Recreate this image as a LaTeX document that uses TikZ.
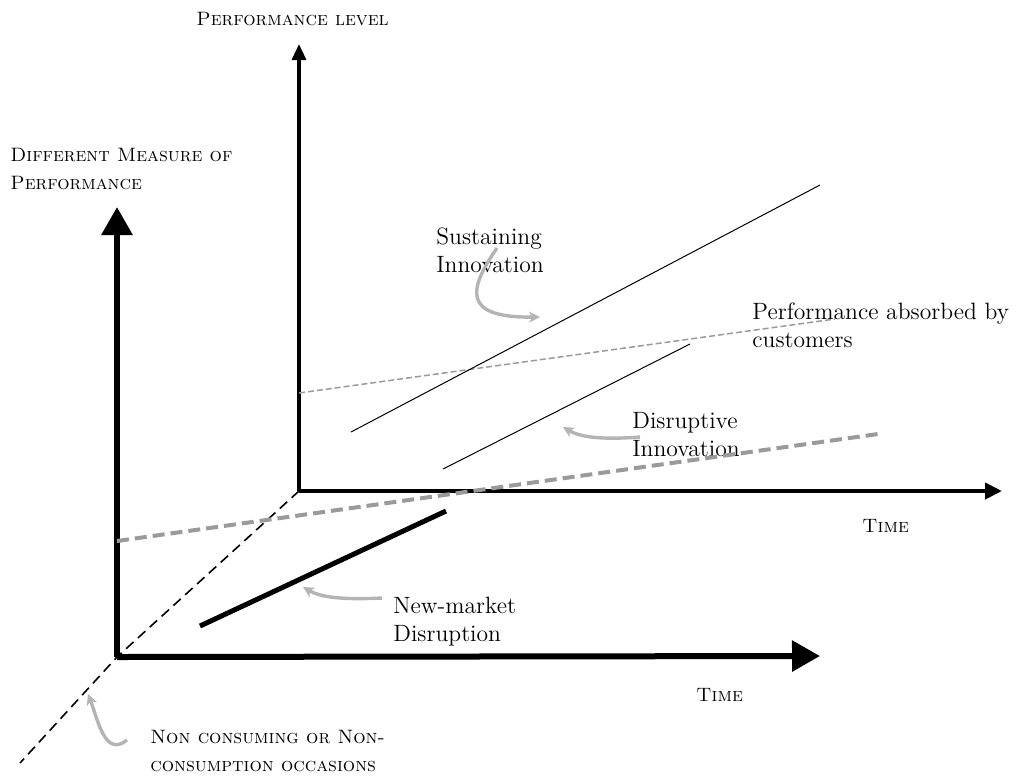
\documentclass[tikz,border=0pt]{standalone}
\usepackage{xcolor}
\usepackage{tikz}
\usetikzlibrary{arrows.meta}

\definecolor{absorbgray}{HTML}{9A9A9A}
\definecolor{pointgray}{HTML}{B4B4B4}

\begin{document}
\begin{tikzpicture}[
  x=0.5pt, y=-0.5pt,
  lbl/.style={anchor=north west, inner sep=0pt, align=left, font=\fontsize{11.8}{14}\selectfont},
  caplbl/.style={lbl, font=\fontsize{9.7}{14}\selectfont\scshape},
  mainaxis/.style={line width=3pt, -{Triangle[length=14pt, width=15pt]}},
  backaxis/.style={line width=1.6pt, -{Triangle[length=8pt, width=7pt]}},
  trend/.style={line width=0.5pt},
  absorb/.style={absorbgray, line width=0.75pt, dash pattern=on 3pt off 1.5pt},
  pointer/.style={pointgray, line width=1.7pt, -{Stealth[length=5.5pt, width=5.5pt]}}
]
\useasboundingbox (0,0) rectangle (1022,778);

% origins and axis ends
\coordinate (front) at (117,657);
\coordinate (back) at (299,491);
\coordinate (fronty) at (117,207);
\coordinate (frontx) at (820,656);
\coordinate (backy) at (299,44);
\coordinate (backx) at (1002,491);
\coordinate (depth) at (20,763);

% labels
\node[caplbl] (perf) at (196,12) {Performance level};
\node[caplbl] (measure) at (10,148) {Different Measure of\\Performance};
\node[lbl] (sust) at (436,227) {Sustaining\\Innovation};
\node[lbl] (absorbed) at (752,302) {Performance absorbed by\\customers};
\node[lbl] (disr) at (632,412) {Disruptive\\Innovation};
\node[caplbl] (timeback) at (862,519) {Time};
\node[lbl] (newmkt) at (393,597) {New-market\\Disruption};
\node[caplbl] (timefront) at (696,688) {Time};
\node[caplbl] (noncons) at (150,730) {Non consuming or Non-\\consumption occasions};

% third axis, dashed
\draw[line width=0.8pt, dash pattern=on 5pt off 3pt] (back) -- (front) -- (depth);

% axes
\draw[backaxis] (back) -- (backy);
\draw[backaxis, line width=2pt, -{Triangle[length=8.5pt, width=8pt]}] (back) -- (backx);
\draw[mainaxis] (front) -- (fronty);
\draw[mainaxis] (front) -- (frontx);

% performance absorbed by customers
\coordinate (abs1) at (299,393);
\coordinate (abs2) at (835,319);
\draw[absorb] (abs1) -- (abs2);
\coordinate (abs3) at (117,541);
\coordinate (abs4) at (878,434);
\draw[absorbgray, line width=2pt, dash pattern=on 6pt off 3pt] (abs3) -- (abs4);

% trajectories
\coordinate (s1) at (351,432);
\coordinate (s2) at (820,185);
\draw[trend] (s1) -- (s2);
\coordinate (d1) at (443,469);
\coordinate (d2) at (690,344);
\draw[trend] (d1) -- (d2);
\coordinate (n1) at (200,626);
\coordinate (n2) at (446,511);
\draw[line width=2.5pt] (n1) -- (n2);

% grey pointers
\coordinate (ps) at (497,248);
\coordinate (pt) at (540,317);
\draw[pointer] (ps) .. controls (468,290) and (462,318) .. (pt);
\coordinate (pd) at (640,437);
\coordinate (pdt) at (563,427);
\draw[pointer] (pd) .. controls (600,440) and (580,437) .. (pdt);
\coordinate (pn) at (382,598);
\coordinate (pnt) at (303,587);
\draw[pointer] (pn) .. controls (340,600) and (320,597) .. (pnt);
\coordinate (pc) at (127,740);
\coordinate (pct) at (88,694);
\draw[pointer] (pc) .. controls (105,758) and (98,720) .. (pct);
\end{tikzpicture}
\end{document}
